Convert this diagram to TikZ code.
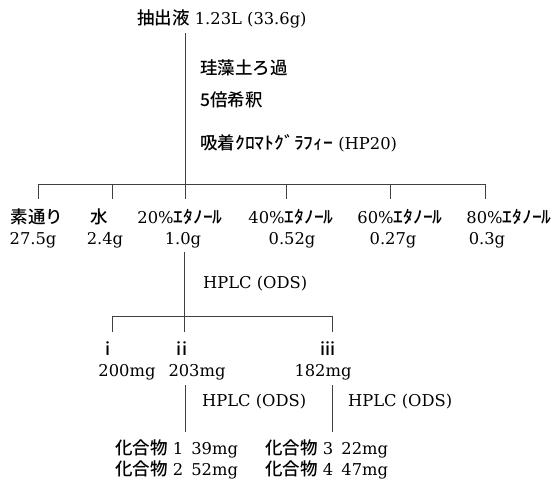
\documentclass[tikz,border=0pt]{standalone}
\usepackage{fontspec}
\setmainfont{DejaVu Serif}
\newfontfamily\jpfont{Noto Sans CJK JP Medium}
\newcommand\jp[1]{{\jpfont\fontsize{17.5}{20}\selectfont #1}}
\newcommand\hk[1]{\scalebox{1.12}[1]{\jp{#1}}}
\begin{document}
\begin{tikzpicture}[x=1pt,y=-1pt,
  txt/.style={inner sep=0pt, anchor=base, font=\fontsize{16.3}{19}\selectfont},
  txtw/.style={txt, anchor=base west},
  conn/.style={draw=black!75, line width=0.7pt}]
\useasboundingbox (0,0) rectangle (552,483);
% top
\node[txtw] (top) at (137,24) {\jp{抽出液} 1.23L (33.6g)};
\node[txtw] (s1) at (200,74) {\jp{珪藻土ろ過}};
\node[txtw] (s2) at (200,106) {\jp{5倍希釈}};
\node[txtw] (s3) at (200,149) {\jp{吸着}\hk{ｸﾛﾏﾄｸﾞﾗﾌｨｰ} (HP20)};
% fractions
\node[txt] (f1) at (37,223) {\jp{素通り}};
\node[txt] (f2) at (99,223) {\jp{水}};
\node[txt] (f3) at (180,223) {20\%\hk{ｴﾀﾉｰﾙ}};
\node[txt] (f4) at (291,223) {40\%\hk{ｴﾀﾉｰﾙ}};
\node[txt] (f5) at (400,223) {60\%\hk{ｴﾀﾉｰﾙ}};
\node[txt] (f6) at (509,223) {80\%\hk{ｴﾀﾉｰﾙ}};
\node[txt] (w1) at (33,244) {27.5g};
\node[txt] (w2) at (105,244) {2.4g};
\node[txt] (w3) at (183,244) {1.0g};
\node[txt] (w4) at (292,244) {0.52g};
\node[txt] (w5) at (393,244) {0.27g};
\node[txt] (w6) at (487,244) {0.3g};
\node[txtw] (h1) at (203,288) {HPLC (ODS)};
% sub fractions
\node[txt] (i1) at (108,355) {\jp{i}};
\node[txt] (i2) at (182,355) {\jp{ii}};
\node[txt] (i3) at (328,355) {\jp{iii}};
\node[txt] (m1) at (127,376) {200mg};
\node[txt] (m2) at (197,376) {203mg};
\node[txt] (m3) at (323,376) {182mg};
\node[txtw] (h2) at (202,406) {HPLC (ODS)};
\node[txtw] (h3) at (348,406) {HPLC (ODS)};
\node[txtw] (c1) at (115,454) {\jp{化合物} 1\hspace{0.5em}39mg};
\node[txtw] (c2) at (115,475) {\jp{化合物} 2\hspace{0.5em}52mg};
\node[txtw] (c3) at (265,454) {\jp{化合物} 3\hspace{0.5em}22mg};
\node[txtw] (c4) at (265,475) {\jp{化合物} 4\hspace{0.5em}47mg};
% connector coordinates
\coordinate (a0) at (185,33);
\coordinate (a1) at (185,184);
\coordinate (L) at (38,184);
\coordinate (R) at (485,184);
\foreach \n/\x in {1/38,2/112,3/185,4/286,5/390,6/485}{
  \coordinate (t\n) at (\x,199);
}
\coordinate (b0) at (184,252);
\coordinate (b1) at (184,316);
\coordinate (bl) at (112,316);
\coordinate (br) at (332,316);
\coordinate (u1) at (112,332);
\coordinate (u2) at (184,332);
\coordinate (u3) at (332,332);
\coordinate (v1a) at (185,385);
\coordinate (v1b) at (185,432);
\coordinate (v2a) at (332,385);
\coordinate (v2b) at (332,432);
% connectors
\draw[conn] (a0) -- (a1);
\draw[conn] (L) -- (R);
\foreach \n in {1,...,6}{ \draw[conn] (t\n |- L) -- (t\n); }
\draw[conn] (b0) -- (b1);
\draw[conn] (bl) -- (br);
\draw[conn] (u1 |- bl) -- (u1);
\draw[conn] (u2 |- bl) -- (u2);
\draw[conn] (u3 |- bl) -- (u3);
\draw[conn] (v1a) -- (v1b);
\draw[conn] (v2a) -- (v2b);
\end{tikzpicture}
\end{document}
